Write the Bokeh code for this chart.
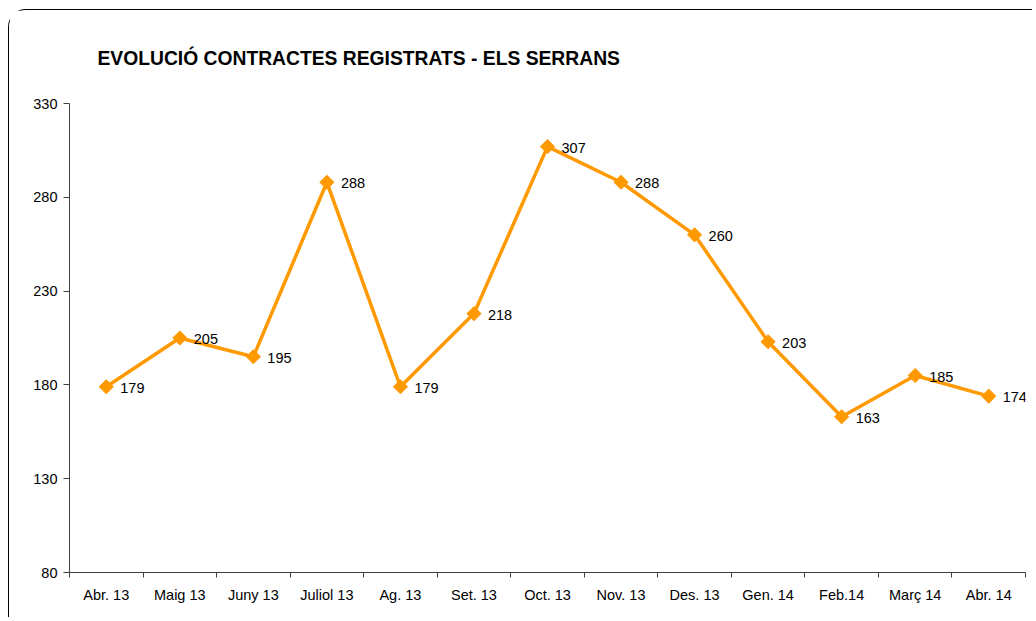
import numpy as np
from bokeh.plotting import figure
from bokeh.models import (ColumnDataSource, Range1d, FixedTicker, LabelSet,
                          CustomJSTickFormatter)
from bokeh.core.properties import value
from bokeh.embed import file_html
from bokeh.resources import INLINE

months = ["Abr. 13", "Maig 13", "Juny 13", "Juliol 13", "Ag. 13", "Set. 13", "Oct. 13",
          "Nov. 13", "Des. 13", "Gen. 14", "Feb.14", "Març 14", "Abr. 14"]
contracts = [179, 205, 195, 288, 179, 218, 307, 288, 260, 203, 163, 185, 174]
y_ticks = [80, 130, 180, 230, 280, 330]
title_text = "EVOLUCIÓ CONTRACTES REGISTRATS - ELS SERRANS"

FONT = "Liberation Sans"
ORANGE = "#FF9900"
AXIS = "#404040"

n = len(months)
centers = [i + 0.5 for i in range(n)]
bounds = list(range(n + 1))
source = ColumnDataSource(dict(x=centers, month=months, value=contracts,
                               label=[str(v) for v in contracts]))

p = figure(width=1024, height=608, output_backend="svg", toolbar_location=None,
           x_range=Range1d(0, n),
           y_range=Range1d(y_ticks[0], y_ticks[-1]),
           min_border_left=60, min_border_right=8, min_border_top=92, min_border_bottom=46)

p.styles = {"margin-left": "8px", "margin-top": "9px",
            "border-left": "1.5px solid black", "border-top": "1.5px solid black",
            "border-top-left-radius": "18px"}

p.outline_line_color = None
p.xgrid.visible = False
p.ygrid.visible = False
p.background_fill_color = "white"
p.border_fill_color = "white"

# title
p.title.text = title_text
p.title.text_font = FONT
p.title.text_font_size = "19.3px"
p.title.text_font_style = "bold"
p.title.text_color = "black"
p.title.align = "left"
p.title.offset = 28
p.title.standoff = 70

# y axis
ya = p.yaxis[0]
ya.ticker = FixedTicker(ticks=y_ticks)
ya.axis_line_color = AXIS
ya.major_tick_line_color = AXIS
ya.major_tick_out = 6
ya.major_tick_in = 0
ya.minor_tick_line_color = None
ya.major_label_text_font = FONT
ya.major_label_text_font_size = "14.5px"
ya.major_label_text_color = "black"
ya.major_label_standoff = 6

# x axis: labels at category centres, tick marks at category boundaries
xa = p.xaxis[0]
xa.ticker = FixedTicker(ticks=centers, minor_ticks=bounds)
xa.formatter = CustomJSTickFormatter(args=dict(months=months),
                                     code="return months[Math.floor(tick)] || ''")
xa.axis_line_color = AXIS
xa.major_tick_line_color = None
xa.major_tick_out = 5
xa.major_tick_in = 0
xa.minor_tick_line_color = AXIS
xa.minor_tick_out = 5
xa.minor_tick_in = 0
xa.major_label_text_font = FONT
xa.major_label_text_font_size = "14.5px"
xa.major_label_text_color = "black"
xa.major_label_standoff = 9

# series
p.line("x", "value", source=source, line_color=ORANGE, line_width=3.5)
p.scatter("x", "value", source=source, marker="square", angle=np.pi / 4,
          size=10, fill_color=ORANGE, line_color=ORANGE)

labels = LabelSet(x="x", y="value", text="label", source=source,
                  x_offset=14, y_offset=-1, text_baseline="middle", text_align="left",
                  text_font=value(FONT), text_font_size=value("14.5px"),
                  text_color="black")
p.add_layout(labels)

open("out.html", "w").write(file_html(p, INLINE))
